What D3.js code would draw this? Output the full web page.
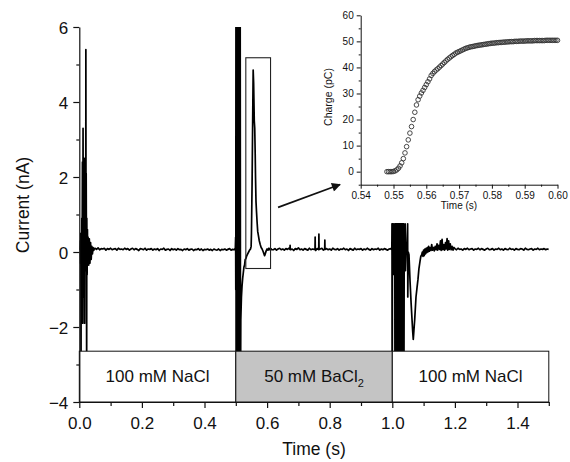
<!DOCTYPE html>
<html>
<head>
<meta charset="utf-8">
<script src="https://cdn.jsdelivr.net/npm/d3@7"></script>
<style>
  html, body { margin: 0; padding: 0; background: #fff; }
  svg { display: block; }
</style>
</head>
<body>
<svg id="chart" width="570" height="462"></svg>
<script>
// ---- data ----
const currentTicks = [-4, -2, 0, 2, 4, 6];
const currentMinor = [-3, -1, 1, 3, 5];
const timeTicks = [0, 0.2, 0.4, 0.6, 0.8, 1.0, 1.2, 1.4];
const timeMinor = [0.1, 0.3, 0.5, 0.7, 0.9, 1.1, 1.3, 1.5];

const solutionText = ["100 mM NaCl", "50 mM BaCl", "100 mM NaCl"];
const solutionSub = ["", "2", ""];
const solutionStart = [0, 0.5, 1.0];
const solutionEnd = [0.5, 1.0, 1.5];
const solutionFill = ["#ffffff", "#c4c4c4", "#ffffff"];

// switching transient at t = 0 (time s, current nA)
const naclEvents = [
  [0.000, 0.06], [0.002, 0.08], [0.003, 0.3], [0.004, -0.3], [0.005, 0.5], [0.0055, -3.5],
  [0.006, 0.4], [0.007, -0.6], [0.008, 0.9], [0.009, -0.4], [0.010, 2.4], [0.011, -1.9],
  [0.012, 3.3], [0.013, -1.2], [0.014, 2.4], [0.015, -0.6], [0.016, 2.5], [0.017, -1.9],
  [0.018, 2.2], [0.019, 0.1], [0.020, 1.8], [0.0205, -0.5], [0.021, 5.4], [0.0215, 0.2],
  [0.022, 2.1], [0.023, -0.4], [0.0235, -3.5], [0.024, 0.9], [0.025, -0.6], [0.026, 0.6],
  [0.027, -0.3], [0.028, 0.4], [0.030, -0.35], [0.032, 0.35], [0.034, -0.3], [0.036, 0.25],
  [0.038, -0.2], [0.040, 0.15], [0.042, -0.05], [0.044, 0.12], [0.046, 0.04], [0.048, 0.09]
];
// baseline 0.05 .. 0.495 s, every 5 ms
const naclBaseline = [
  0.10, 0.07, 0.11, 0.06, 0.09, 0.08, 0.10, 0.05, 0.09, 0.07,
  0.10, 0.06, 0.08, 0.09, 0.05, 0.10, 0.07, 0.08, 0.06, 0.10,
  0.07, 0.09, 0.05, 0.08, 0.10, 0.06, 0.09, 0.07, 0.04, 0.09,
  0.08, 0.06, 0.10, 0.05, 0.08, 0.07, 0.09, 0.05, 0.08, 0.06,
  0.09, 0.04, 0.08, 0.07, 0.10, 0.05, 0.07, 0.08, 0.04, 0.09,
  0.06, 0.08, 0.05, 0.09, 0.06, 0.07, 0.04, 0.08, 0.06, 0.09,
  0.05, 0.07, 0.08, 0.04, 0.07, 0.06, 0.09, 0.05, 0.08, 0.04,
  0.07, 0.06, 0.08, 0.05, 0.07, 0.04, 0.08, 0.06, 0.05, 0.08,
  0.04, 0.07, 0.06, 0.08, 0.05, 0.07, 0.09, 0.05, 0.07, 0.06
];

// exchange to BaCl2 at t = 0.5 and the Ba2+ current peak
const baclEvents = [
  [0.4985, 0.1], [0.4995, 0.4], [0.500, -1.0], [0.5005, 7], [0.501, -4], [0.502, 7],
  [0.503, -4], [0.504, 7], [0.505, -4], [0.506, 7], [0.507, -4], [0.508, 7], [0.509, -4],
  [0.510, 7], [0.511, -4], [0.512, 7], [0.513, -4], [0.514, 7], [0.515, -4], [0.516, -1.8],
  [0.518, -1.2], [0.520, -0.9], [0.522, -0.7], [0.524, -0.55], [0.526, -0.4], [0.528, -0.35],
  [0.530, -0.2], [0.532, -0.18], [0.535, -0.1], [0.538, -0.05], [0.541, 0.0], [0.544, 0.05],
  [0.547, 0.08], [0.549, 0.15], [0.550, 0.5], [0.552, 1.8], [0.554, 3.6], [0.5555, 4.85],
  [0.557, 4.5], [0.558, 4.0], [0.559, 3.5], [0.5605, 3.3], [0.562, 2.6], [0.563, 2.0],
  [0.5645, 1.35], [0.566, 1.1], [0.568, 0.8], [0.570, 0.55], [0.572, 0.45], [0.575, 0.3],
  [0.578, 0.2], [0.581, 0.12], [0.584, 0.08], [0.587, 0.02], [0.590, -0.05], [0.592, -0.1],
  [0.594, -0.05], [0.597, 0.03], [0.600, 0.08], [0.603, 0.05], [0.606, 0.1], [0.609, 0.06],
  [0.612, 0.09], [0.615, 0.06],
  [0.673, 0.07], [0.6735, 0.18], [0.674, 0.07],
  [0.753, 0.07], [0.7535, 0.4], [0.754, 0.07],
  [0.765, 0.07], [0.7655, 0.48], [0.766, 0.07],
  [0.784, 0.07], [0.7845, 0.32], [0.785, 0.07]
];
// baseline 0.62 .. 0.99 s, every 5 ms
const baclBaseline = [
  0.06, 0.09, 0.05, 0.08, 0.10, 0.06, 0.08, 0.05, 0.09, 0.07,
  0.10, 0.06, 0.08, 0.04, 0.09, 0.07, 0.11, 0.06, 0.08, 0.05,
  0.09, 0.07, 0.05, 0.10, 0.06, 0.08, 0.07, 0.04, 0.09, 0.06,
  0.08, 0.10, 0.05, 0.07, 0.09, 0.06, 0.08, 0.05, 0.10, 0.07,
  0.06, 0.09, 0.05, 0.08, 0.07, 0.10, 0.06, 0.08, 0.04, 0.09,
  0.07, 0.05, 0.10, 0.06, 0.08, 0.07, 0.09, 0.05, 0.08, 0.06,
  0.10, 0.07, 0.05, 0.09, 0.06, 0.08, 0.07, 0.10, 0.05, 0.08,
  0.06, 0.09, 0.07, 0.05, 0.08
];

// exchange back to NaCl at t = 1.0 and the inward dip
const washEvents = [
  [0.995, 0.09], [0.9985, 0.06], [0.999, 0.75], [0.9995, -4], [1.000, -4], [1.0005, 0.75],
  [1.001, 0.05], [1.003, 0.1], [1.004, 0.75], [1.0045, -0.6], [1.006, 0.08], [1.008, 0.75],
  [1.0085, -4], [1.010, 0.75], [1.011, -4], [1.012, 0.75], [1.013, -4], [1.014, 0.75],
  [1.015, -4], [1.016, 0.75], [1.017, -4], [1.018, 0.75], [1.019, -4], [1.020, 0.75],
  [1.021, -4], [1.022, 0.75], [1.023, -4], [1.024, 0.75], [1.025, -4], [1.026, 0.75],
  [1.027, -4], [1.028, 0.75], [1.029, -4], [1.030, 0.75], [1.031, -4], [1.032, 0.75],
  [1.033, -4], [1.034, 0.75], [1.035, -4], [1.036, 0.75], [1.037, -4], [1.038, -0.3],
  [1.041, 0.75], [1.042, -0.5], [1.044, 0.0], [1.046, 0.05], [1.049, 0.75], [1.0495, -1.2],
  [1.051, 0.0], [1.0533, -0.07], [1.0565, -0.75], [1.060, -1.35], [1.063, -1.8], [1.065, -2.1],
  [1.067, -2.33], [1.069, -2.1], [1.0716, -1.8], [1.0757, -1.2], [1.079, -0.95], [1.082, -0.73],
  [1.085, -0.45], [1.0885, -0.25], [1.091, -0.12], [1.094, -0.07], [1.096, 0.0], [1.098, -0.12],
  [1.100, 0.05], [1.102, -0.1], [1.104, 0.08], [1.106, -0.05], [1.108, 0.1], [1.110, -0.02],
  [1.112, 0.12], [1.114, 0.0], [1.116, 0.15], [1.118, 0.02], [1.120, 0.12], [1.123, 0.04],
  [1.126, 0.2], [1.128, 0.05], [1.131, 0.12], [1.134, 0.03], [1.137, 0.15], [1.140, 0.06],
  [1.143, 0.22], [1.145, 0.05], [1.148, 0.18], [1.151, 0.07], [1.154, 0.3], [1.156, 0.04],
  [1.159, 0.34], [1.161, 0.06], [1.164, 0.2], [1.167, 0.05], [1.170, 0.25], [1.172, 0.08],
  [1.175, 0.36], [1.177, 0.05], [1.180, 0.3], [1.182, 0.07], [1.185, 0.22], [1.188, 0.06],
  [1.191, 0.15], [1.194, 0.05], [1.197, 0.12]
];
// baseline 1.2 .. 1.5 s, every 5 ms
const washBaseline = [
  0.09, 0.06, 0.10, 0.07, 0.08, 0.05, 0.09, 0.07, 0.10, 0.06,
  0.08, 0.09, 0.05, 0.08, 0.07, 0.10, 0.06, 0.09, 0.07, 0.05,
  0.08, 0.10, 0.06, 0.07, 0.09, 0.05, 0.08, 0.07, 0.10, 0.06,
  0.08, 0.05, 0.09, 0.07, 0.06, 0.10, 0.07, 0.08, 0.05, 0.09,
  0.07, 0.06, 0.09, 0.08, 0.05, 0.10, 0.07, 0.06, 0.08, 0.09,
  0.05, 0.08, 0.07, 0.10, 0.06, 0.08, 0.07, 0.09, 0.06, 0.08,
  0.07
];

// zoom window drawn on the trace (time s, current nA)
const zoomWindow = { t0: 0.532, t1: 0.611, v0: -0.44, v1: 5.18 };

// inset: integrated charge (pC), sampled every 0.5 ms from 0.548 s
const chargeStart = 0.548;
const chargeStep = 0.0005;
const chargeValues = [
  0.0, 0.0, 0.0, 0.0, 0.1, 0.3, 0.7, 1.3, 2.2, 3.4,
  5.0, 7.2, 9.6, 12.2, 14.8, 17.3, 20.0, 22.8, 25.6, 27.6,
  29.0, 30.2, 31.2, 32.3, 33.4, 34.5, 35.6, 36.9, 37.7, 38.4,
  39.0, 39.5, 40.1, 40.7, 41.3, 41.9, 42.5, 43.1, 43.6, 44.1,
  44.6, 45.0, 45.5, 45.8, 46.1, 46.4, 46.7, 47.0, 47.3, 47.5,
  47.7, 47.9, 48.0, 48.1, 48.3, 48.4, 48.5, 48.6, 48.7, 48.8,
  48.9, 49.0, 49.1, 49.2, 49.3, 49.3, 49.4, 49.5, 49.5, 49.6,
  49.6, 49.7, 49.7, 49.8, 49.8, 49.9, 49.9, 49.9, 50.0, 50.0,
  50.0, 50.1, 50.1, 50.1, 50.1, 50.2, 50.2, 50.2, 50.2, 50.2,
  50.3, 50.3, 50.3, 50.3, 50.3, 50.3, 50.3, 50.4, 50.4, 50.4,
  50.4, 50.4, 50.4, 50.4, 50.4
];
const chargeTicks = [0, 10, 20, 30, 40, 50, 60];
const chargeMinor = [-5, 5, 15, 25, 35, 45, 55];
const insetTimeTicks = [0.54, 0.55, 0.56, 0.57, 0.58, 0.59, 0.60];
const insetTimeMinor = [0.545, 0.555, 0.565, 0.575, 0.585, 0.595];

// ---- drawing ----
const font = "'Liberation Sans', Arial, sans-serif";
const ink = "#111";
const svg = d3.select("#chart").style("font-family", font);

const stepped = (start, step, values) =>
  values.map((v, i) => [+(start + i * step).toFixed(4), v]);

const trace = [
  ...naclEvents,
  ...stepped(0.05, 0.005, naclBaseline),
  ...baclEvents,
  ...stepped(0.62, 0.005, baclBaseline),
  ...washEvents,
  ...stepped(1.2, 0.005, washBaseline)
].sort((a, b) => a[0] - b[0]);

// 1. Scales
const x = d3.scaleLinear().domain([0, 1.5]).range([79.3, 548.8]);
const y = d3.scaleLinear().domain([-4, 6]).range([402, 27]);

// 2. Trace, clipped to the plot area
svg.append("clipPath").attr("id", "plotClip")
  .append("rect")
  .attr("x", x(0)).attr("y", y(6))
  .attr("width", x(1.5) - x(0)).attr("height", y(-4) - y(6));

const line = d3.line().x(d => x(d[0])).y(d => y(d[1]));

svg.append("path")
  .datum(trace)
  .attr("clip-path", "url(#plotClip)")
  .attr("fill", "none")
  .attr("stroke", "#000")
  .attr("stroke-width", 1.7)
  .attr("stroke-linejoin", "round")
  .attr("d", line);

// 3. Solution boxes along the bottom
const boxTop = -2.645;
const boxes = svg.append("g");
solutionText.forEach((label, i) => {
  boxes.append("rect")
    .attr("x", x(solutionStart[i]))
    .attr("y", y(boxTop))
    .attr("width", x(solutionEnd[i]) - x(solutionStart[i]))
    .attr("height", y(-4) - y(boxTop))
    .attr("fill", solutionFill[i])
    .attr("stroke", ink)
    .attr("stroke-width", 1);

  const txt = boxes.append("text")
    .attr("x", x((solutionStart[i] + solutionEnd[i]) / 2))
    .attr("y", 382)
    .attr("text-anchor", "middle")
    .attr("font-size", "17px")
    .attr("fill", ink)
    .text(label);
  if (solutionSub[i]) {
    txt.append("tspan")
      .attr("font-size", "11px")
      .attr("dy", 5)
      .text(solutionSub[i]);
  }
});

// 4. Zoom window and arrow
svg.append("rect")
  .attr("x", x(zoomWindow.t0))
  .attr("y", y(zoomWindow.v1))
  .attr("width", x(zoomWindow.t1) - x(zoomWindow.t0))
  .attr("height", y(zoomWindow.v0) - y(zoomWindow.v1))
  .attr("fill", "none")
  .attr("stroke", "#222")
  .attr("stroke-width", 1.1);

svg.append("defs").append("marker")
  .attr("id", "arrowHead")
  .attr("viewBox", "0 0 10 10")
  .attr("refX", 9).attr("refY", 5)
  .attr("markerWidth", 12).attr("markerHeight", 9)
  .attr("markerUnits", "userSpaceOnUse")
  .attr("orient", "auto")
  .append("path")
  .attr("d", "M0,0 L10,5 L0,10 Z")
  .attr("fill", "#111");

svg.append("line")
  .attr("x1", x(0.635)).attr("y1", y(1.19))
  .attr("x2", x(0.833)).attr("y2", y(1.8))
  .attr("stroke", "#111")
  .attr("stroke-width", 1.6)
  .attr("marker-end", "url(#arrowHead)");

// 5. Main axes
function styleAxis(g, size) {
  g.select(".domain").attr("stroke", ink).attr("stroke-width", 1.2);
  g.selectAll(".tick line").attr("stroke", ink).attr("stroke-width", 1.2);
  g.selectAll(".tick text")
    .attr("fill", ink)
    .attr("font-size", size)
    .attr("font-family", font);
}

const yAxis = svg.append("g")
  .attr("transform", `translate(${x(0)},0)`)
  .call(d3.axisLeft(y).tickValues(currentTicks).tickSize(6).tickSizeOuter(0).tickPadding(5));
styleAxis(yAxis, "17px");
yAxis.selectAll(".tick text").attr("dy", "0.36em");

svg.append("g")
  .attr("transform", `translate(${x(0)},0)`)
  .call(d3.axisLeft(y).tickValues(currentMinor).tickSize(3).tickFormat(""))
  .call(g => { g.select(".domain").remove(); g.selectAll("line").attr("stroke", ink).attr("stroke-width", 1.2); });

const xAxis = svg.append("g")
  .attr("transform", `translate(0,${y(-4)})`)
  .call(d3.axisBottom(x).tickValues(timeTicks).tickSize(6).tickSizeOuter(0)
    .tickPadding(9).tickFormat(d3.format(".1f")));
styleAxis(xAxis, "17px");

svg.append("g")
  .attr("transform", `translate(0,${y(-4)})`)
  .call(d3.axisBottom(x).tickValues(timeMinor).tickSize(4).tickFormat(""))
  .call(g => { g.select(".domain").remove(); g.selectAll("line").attr("stroke", ink).attr("stroke-width", 1.2); });

svg.append("text")
  .attr("x", 314).attr("y", 455)
  .attr("text-anchor", "middle")
  .attr("font-size", "17.5px")
  .attr("fill", ink)
  .text("Time (s)");

svg.append("text")
  .attr("transform", "translate(29,205) rotate(-90)")
  .attr("text-anchor", "middle")
  .attr("font-size", "17.5px")
  .attr("fill", ink)
  .text("Current (nA)");

// 6. Inset: integrated charge
const xi = d3.scaleLinear().domain([0.54, 0.60]).range([360.7, 557.5]);
const yi = d3.scaleLinear().domain([-5, 60]).range([184.7, 15.3]);
const inset = svg.append("g");

inset.selectAll("circle")
  .data(chargeValues)
  .join("circle")
  .attr("cx", (d, i) => xi(chargeStart + i * chargeStep))
  .attr("cy", d => yi(d))
  .attr("r", 2.3)
  .attr("fill", "none")
  .attr("stroke", "#333")
  .attr("stroke-width", 0.9);

const yiAxis = inset.append("g")
  .attr("transform", `translate(${xi(0.54)},0)`)
  .call(d3.axisLeft(yi).tickValues(chargeTicks).tickSize(4).tickSizeOuter(0).tickPadding(3));
styleAxis(yiAxis, "10px");
yiAxis.select(".domain").attr("stroke-width", 1);
yiAxis.selectAll(".tick line").attr("stroke-width", 1);

inset.append("g")
  .attr("transform", `translate(${xi(0.54)},0)`)
  .call(d3.axisLeft(yi).tickValues(chargeMinor).tickSize(2).tickFormat(""))
  .call(g => { g.select(".domain").remove(); g.selectAll("line").attr("stroke", ink); });

const xiAxis = inset.append("g")
  .attr("transform", `translate(0,${yi(-5)})`)
  .call(d3.axisBottom(xi).tickValues(insetTimeTicks).tickSize(4).tickSizeOuter(0)
    .tickPadding(3).tickFormat(d3.format(".2f")));
styleAxis(xiAxis, "10px");
xiAxis.select(".domain").attr("stroke-width", 1);
xiAxis.selectAll(".tick line").attr("stroke-width", 1);

inset.append("g")
  .attr("transform", `translate(0,${yi(-5)})`)
  .call(d3.axisBottom(xi).tickValues(insetTimeMinor).tickSize(2).tickFormat(""))
  .call(g => { g.select(".domain").remove(); g.selectAll("line").attr("stroke", ink); });

inset.append("text")
  .attr("x", 459).attr("y", 209)
  .attr("text-anchor", "middle")
  .attr("font-size", "10px")
  .attr("fill", ink)
  .text("Time (s)");

inset.append("text")
  .attr("transform", "translate(332,97) rotate(-90)")
  .attr("text-anchor", "middle")
  .attr("font-size", "10.5px")
  .attr("fill", ink)
  .text("Charge (pC)");
</script>
</body>
</html>
